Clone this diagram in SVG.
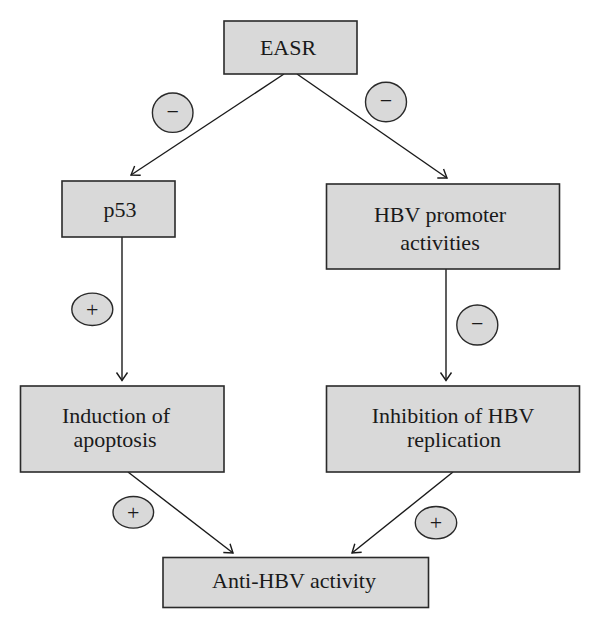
<svg xmlns="http://www.w3.org/2000/svg" width="600" height="628" viewBox="0 0 600 628">
<style>
.box{fill:#d9d9d9;stroke:#2a2a2a;stroke-width:1.6}
.lbl{font-family:"Liberation Serif",serif;font-size:22px;fill:#1a1a1a;text-anchor:middle}
.sig{fill:#d9d9d9;stroke:#2a2a2a;stroke-width:1.4}
.sym{font-family:"Liberation Serif",serif;font-size:22px;fill:#1a1a1a;text-anchor:middle}
.edge{stroke:#1a1a1a;stroke-width:1.4;fill:none;marker-end:url(#arr)}
</style>
<defs>
<marker id="arr" markerUnits="userSpaceOnUse" markerWidth="14" markerHeight="14" viewBox="-10 -7 12 14" refX="0" refY="0" orient="auto">
<path d="M-8,-5.5 L0,0 L-8,5.5" fill="none" stroke="#1a1a1a" stroke-width="1.4"/>
</marker>
</defs>
<rect width="600" height="628" fill="#ffffff"/>
<g id="connectors">
<line class="edge" x1="284" y1="74" x2="131" y2="175"/>
<line class="edge" x1="297" y1="74" x2="447" y2="178"/>
<line class="edge" x1="122" y1="237" x2="122" y2="380.5"/>
<line class="edge" x1="446" y1="269" x2="446" y2="380.5"/>
<line class="edge" x1="128" y1="472" x2="233" y2="553"/>
<line class="edge" x1="453" y1="472" x2="352" y2="553"/>
<g id="sign-easr-p53"><ellipse class="sig" cx="172.7" cy="112.7" rx="20.3" ry="19.7"/><text class="sym" x="172.7" y="119">−</text></g>
<g id="sign-easr-hbv"><ellipse class="sig" cx="386" cy="102" rx="20.5" ry="19.7"/><text class="sym" x="386" y="108.3">−</text></g>
<g id="sign-p53-apop"><ellipse class="sig" cx="92.3" cy="309.3" rx="20.5" ry="16.2"/><text class="sym" x="92.3" y="316.6">+</text></g>
<g id="sign-hbv-inh"><ellipse class="sig" cx="477.3" cy="325" rx="20.5" ry="20"/><text class="sym" x="477.3" y="331.3">−</text></g>
<g id="sign-apop-anti"><ellipse class="sig" cx="133.3" cy="512.3" rx="20.3" ry="15.8"/><text class="sym" x="133.3" y="519.6">+</text></g>
<g id="sign-inh-anti"><ellipse class="sig" cx="436" cy="522.7" rx="20.7" ry="16.2"/><text class="sym" x="436" y="530">+</text></g>
</g>
<g id="easr"><rect class="box" x="224" y="21" width="133" height="53"/><text class="lbl" x="288" y="55">EASR</text></g>
<g id="p53"><rect class="box" x="62" y="181" width="113" height="56"/><text class="lbl" x="120" y="217">p53</text></g>
<g id="hbv-promoter"><rect class="box" x="326.5" y="184" width="233" height="85"/><text class="lbl" x="440" y="221.5">HBV promoter</text><text class="lbl" x="440" y="250">activities</text></g>
<g id="apoptosis"><rect class="box" x="20.5" y="386" width="203.5" height="86"/><text class="lbl" x="116" y="423">Induction of</text><text class="lbl" x="115" y="447">apoptosis</text></g>
<g id="inhibition"><rect class="box" x="326.5" y="386" width="253" height="86"/><text class="lbl" x="453" y="423">Inhibition of HBV</text><text class="lbl" x="454" y="447">replication</text></g>
<g id="anti-hbv"><rect class="box" x="163" y="557.5" width="265.5" height="50"/><text class="lbl" x="294" y="588">Anti-HBV activity</text></g>
</svg>
